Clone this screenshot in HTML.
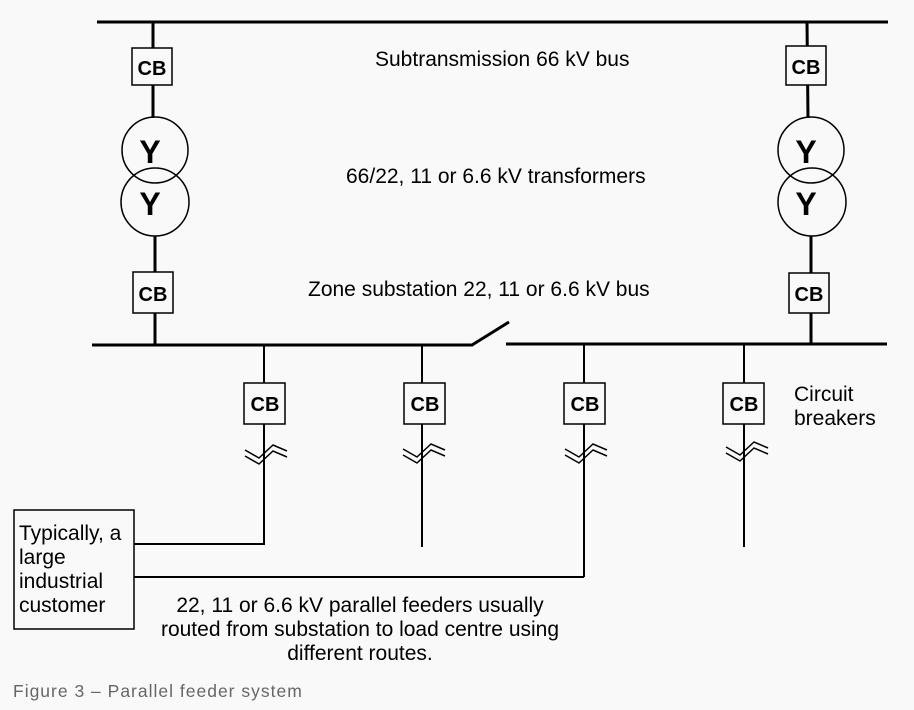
<!DOCTYPE html>
<html><head><style>
body{margin:0;background:#f9f9f9;}
svg{display:block;}
text{font-family:"Liberation Sans",Arial,sans-serif;fill:#000;}
</style></head><body>
<svg width="914" height="710" xmlns="http://www.w3.org/2000/svg">
<rect width="914" height="710" fill="#f9f9f9"/>
<g stroke="#000" fill="none">
<line x1="97" y1="22" x2="888" y2="22" stroke-width="3"/>
<line x1="153" y1="22" x2="153" y2="118" stroke-width="3"/>
<line x1="155" y1="236" x2="155" y2="345" stroke-width="3"/>
<line x1="807" y1="22" x2="808" y2="118" stroke-width="3"/>
<line x1="811" y1="236" x2="811" y2="345" stroke-width="3"/>
<rect x="132" y="48" width="40" height="37" fill="#f9f9f9" stroke-width="1.5"/>
<rect x="786" y="46" width="40" height="39" fill="#f9f9f9" stroke-width="1.5"/>
<rect x="133" y="272" width="40" height="41" fill="#f9f9f9" stroke-width="1.5"/>
<rect x="789" y="273" width="40" height="40" fill="#f9f9f9" stroke-width="1.5"/>
<circle cx="155" cy="150" r="33" stroke-width="1.5"/>
<circle cx="155" cy="202" r="34" stroke-width="1.5"/>
<circle cx="811" cy="150" r="33" stroke-width="1.5"/>
<circle cx="812" cy="202" r="34" stroke-width="1.5"/>
<line x1="92" y1="345" x2="473" y2="345" stroke-width="3"/>
<line x1="472" y1="345" x2="509" y2="322" stroke-width="3"/>
<line x1="506" y1="344" x2="887" y2="344" stroke-width="3"/>
<g stroke-width="2">
<line x1="264" y1="345" x2="264" y2="545"/>
<line x1="422" y1="345" x2="422" y2="547"/>
<line x1="584" y1="345" x2="584" y2="577"/>
<line x1="744" y1="345" x2="744" y2="547"/>
<line x1="134" y1="544" x2="264" y2="544"/>
<line x1="134" y1="577" x2="584" y2="577"/>
</g>
<g stroke-width="1.5">
<rect x="244" y="383" width="41" height="41" fill="#f9f9f9"/>
<rect x="404" y="383" width="41" height="41" fill="#f9f9f9"/>
<rect x="564" y="383" width="41" height="41" fill="#f9f9f9"/>
<rect x="723" y="383" width="41" height="41" fill="#f9f9f9"/>
<rect x="14" y="510" width="120" height="119" fill="#f9f9f9"/>
</g>
<g stroke-width="1.5">
<path d="M245 450 L259 458 L273 445 L287 451 M245 456 L259 464 L273 451 L287 457"/>
<path d="M403 449 L417 457 L431 444 L445 450 M403 455 L417 463 L431 450 L445 456"/>
<path d="M565 449 L579 457 L593 444 L607 450 M565 455 L579 463 L593 450 L607 456"/>
<path d="M726 447 L740 455 L754 442 L768 448 M726 453 L740 461 L754 448 L768 454"/>
</g>
</g>
<g font-weight="bold" font-size="20" text-anchor="middle">
<text x="152" y="75">CB</text>
<text x="806" y="74">CB</text>
<text x="153" y="301">CB</text>
<text x="809" y="301">CB</text>
<text x="265" y="411">CB</text>
<text x="425" y="411">CB</text>
<text x="585" y="411">CB</text>
<text x="744" y="411">CB</text>
<text x="150" y="163" font-size="32">Y</text>
<text x="150" y="215" font-size="32">Y</text>
<text x="806" y="163" font-size="32">Y</text>
<text x="806" y="215" font-size="32">Y</text>
</g>
<g font-size="21">
<text x="375" y="66">Subtransmission 66 kV bus</text>
<text x="346" y="183">66/22, 11 or 6.6 kV transformers</text>
<text x="308" y="296">Zone substation 22, 11 or 6.6 kV bus</text>
<text x="794" y="401">Circuit</text>
<text x="794" y="425">breakers</text>
<text x="19" y="540">Typically, a</text>
<text x="19" y="564">large</text>
<text x="19" y="588">industrial</text>
<text x="19" y="612">customer</text>
<text x="360" y="612" text-anchor="middle">22, 11 or 6.6 kV parallel feeders usually</text>
<text x="360" y="636" text-anchor="middle">routed from substation to load centre using</text>
<text x="360" y="660" text-anchor="middle">different routes.</text>
</g>
<text x="13" y="697" font-size="17.5" style="fill:#666;letter-spacing:1px">Figure 3 – Parallel feeder system</text>
</svg>
</body></html>
